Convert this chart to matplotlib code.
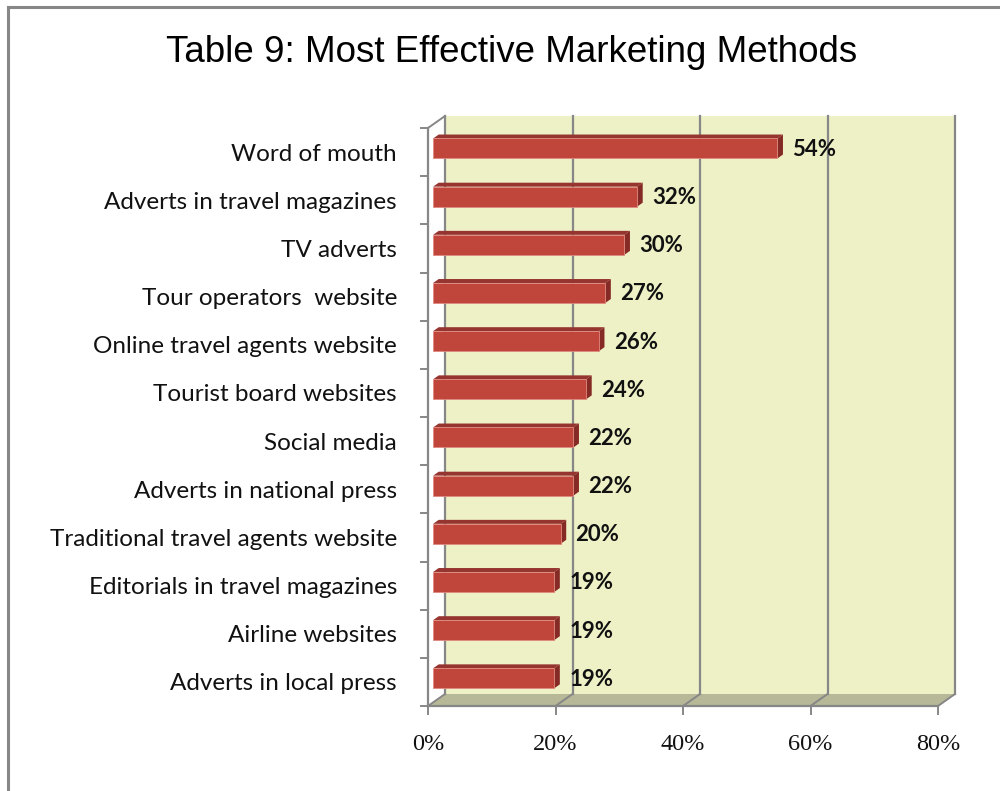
import matplotlib
matplotlib.use("Agg")
import matplotlib.pyplot as plt
from matplotlib.patches import Polygon
from matplotlib.lines import Line2D

# survey results, top of the chart first
methods = ["Word of mouth", "Adverts in travel magazines", "TV adverts",
           "Tour operators  website", "Online travel agents website",
           "Tourist board websites", "Social media", "Adverts in national press",
           "Traditional travel agents website", "Editorials in travel magazines",
           "Airline websites", "Adverts in local press"]
shares = [54, 32, 30, 27, 26, 24, 22, 22, 20, 19, 19, 19]
xticks = [0, 20, 40, 60, 80]

wall_col = "#eef0c6"
floor_col = "#b6b898"
grid_col = "#878787"
front_col = "#c0463c"
top_col = "#963530"
side_col = "#862a25"

fig = plt.figure(figsize=(10, 7.91), dpi=100)
fig.patch.set_facecolor("white")

# front plane of the 3d box, in figure fractions
left, right = 428 / 1000, 938 / 1000
bottom, top = 1 - 706 / 791, 1 - 128 / 791
ax = fig.add_axes([left, bottom, right - left, top - bottom])
n = len(methods)
ax.set_xlim(0, 80)
ax.set_ylim(n, 0)
ax.axis("off")

# pixel sizes in data units
px = 80 / 510
py = n / 578
dX, dY = 17 * px, -12 * py   # depth of the box

# back wall
ax.add_patch(Polygon([(0 + dX, 0 + dY), (80 + dX, 0 + dY), (80 + dX, n + dY), (0 + dX, n + dY)],
                     closed=True, facecolor=wall_col, edgecolor="none", zorder=1, clip_on=False))
# floor
ax.add_patch(Polygon([(0, n), (80, n), (80 + dX, n + dY), (0 + dX, n + dY)],
                     closed=True, facecolor=floor_col, edgecolor="none", zorder=1, clip_on=False))

for t in xticks:
    ax.plot([t + dX, t + dX], [0 + dY, n + dY], color=grid_col, lw=1.6, zorder=2, clip_on=False)
    ax.plot([t, t + dX], [n, n + dY], color=grid_col, lw=1.4, zorder=2, clip_on=False)
    ax.plot([t, t], [n, n + 8 * py], color=grid_col, lw=1.4, zorder=2, clip_on=False)
    ax.text(t, n + 39 * py, f"{t}%", ha="center", va="center", fontsize=17.5,
            family="Liberation Serif", color="#111111")

# front floor edge and the left axis
ax.plot([0, 80], [n, n], color=grid_col, lw=1.6, zorder=2, clip_on=False)
ax.plot([0, 0], [0, n], color=grid_col, lw=1.6, zorder=2, clip_on=False)
ax.plot([0, dX], [0, dY], color=grid_col, lw=1.4, zorder=2, clip_on=False)
for k in range(n + 1):
    ax.plot([-7 * px, 0], [k, k], color=grid_col, lw=1.4, zorder=2, clip_on=False)

# bars sit from 0.30 to 0.63 of the depth
f0, f1 = 0.30, 0.63
h = 20 * py
for i, (name, v) in enumerate(zip(methods, shares)):
    cy = i + 0.5 + f0 * dY
    x0 = f0 * dX
    x1 = v + f0 * dX
    bx, by = (f1 - f0) * dX, (f1 - f0) * dY
    ytop, ybot = cy - h / 2, cy + h / 2
    ax.add_patch(Polygon([(x0, ytop), (x1, ytop), (x1 + bx, ytop + by), (x0 + bx, ytop + by)],
                         closed=True, facecolor=top_col, edgecolor="none", zorder=4, clip_on=False))
    ax.add_patch(Polygon([(x1, ytop), (x1 + bx, ytop + by), (x1 + bx, ybot + by), (x1, ybot)],
                         closed=True, facecolor=side_col, edgecolor="none", zorder=4, clip_on=False))
    ax.add_patch(Polygon([(x0, ytop), (x1, ytop), (x1, ybot), (x0, ybot)],
                         closed=True, facecolor=front_col, edgecolor="#e08a80", lw=0.6,
                         zorder=5, clip_on=False))
    ax.text(x1 + 15 * px, cy + 1 * py, f"{v}%", ha="left", va="center", fontsize=16,
            fontweight="bold", family="Lato", color="#111111", zorder=6)
    ax.text(-31 * px, i + 0.5 + 2 * py, name, ha="right", va="center", fontsize=17.5,
            family="Lato", color="#111111")

fig.text(0.5115, 1 - 62 / 791, "Table 9: Most Effective Marketing Methods",
         ha="center", va="baseline", fontsize=26.5, family="Liberation Sans", color="black")

# outer chart border (left and top only)
fig.add_artist(Line2D([8 / 1000, 8 / 1000], [0, 1 - 7 / 791], color=grid_col, lw=2.2))
fig.add_artist(Line2D([8 / 1000, 1], [1 - 7 / 791, 1 - 7 / 791], color=grid_col, lw=2.2))

fig.savefig("out.png", dpi=100)
